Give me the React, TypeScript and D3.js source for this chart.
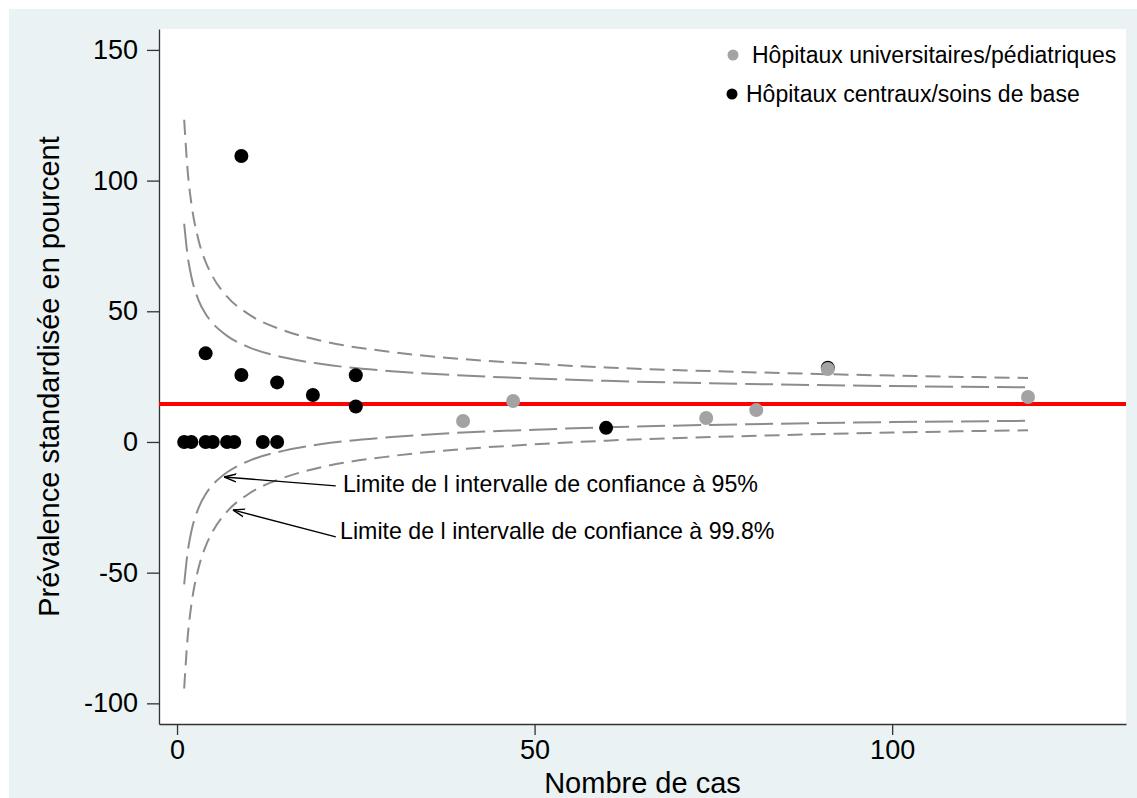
import React, { useEffect, useRef } from 'react';
import * as d3 from 'd3';

// hôpitaux universitaires / pédiatriques (gris)
const univCases = [40, 47, 74, 81, 91, 119];
const univPrev = [8.0, 15.7, 9.2, 12.2, 27.9, 17.2];

// hôpitaux centraux / soins de base (noir)
const centralCases = [1, 2, 4, 5, 7, 8, 12, 14, 4, 9, 9, 14, 19, 25, 25, 60, 91];
const centralPrev = [0, 0, 0, 0, 0, 0, 0, 0, 33.9, 109.4, 25.6, 22.8, 18.0, 25.5, 13.6, 5.4, 28.4];

// moyenne globale
const meanPrev = 14.5;

// limites de l'entonnoir
const limitCases = [1, 1.5, 2, 3, 4, 5, 7, 10, 15, 20, 30, 40, 50, 60, 80, 100, 119];
const upper95 = [83.5, 70.9, 63.3, 54.3, 49.0, 45.4, 40.6, 36.3, 32.3, 29.9, 27.1, 25.4, 24.3, 23.4, 22.2, 21.4, 20.9];
const lower95 = [-54.5, -41.9, -34.3, -25.3, -20.0, -16.4, -11.6, -7.3, -3.3, -0.9, 1.9, 3.6, 4.7, 5.6, 6.8, 7.6, 8.1];
const upper998 = [123.3, 103.3, 91.4, 77.3, 68.9, 63.2, 55.6, 48.9, 42.6, 38.8, 34.4, 31.7, 29.9, 28.5, 26.7, 25.4, 24.5];
const lower998 = [-94.3, -74.3, -62.4, -48.3, -39.9, -34.2, -26.6, -19.9, -13.6, -9.8, -5.4, -2.7, -0.9, 0.5, 2.3, 3.6, 4.5];

const xTicks = [0, 50, 100];
const yTicks = [-100, -50, 0, 50, 100, 150];

const legendLabels = ['Hôpitaux universitaires/pédiatriques', 'Hôpitaux centraux/soins de base'];
const noteLabels = ['Limite de l intervalle de confiance à 95%', 'Limite de l intervalle de confiance à 99.8%'];
// flèches: [x début, y début, x pointe, y pointe] en unités des données
const noteArrows = [
  [22.2, -16.8, 6.6, -13.4],
  [22.2, -36.3, 7.8, -26.0],
];
const noteText = [[23.2, -16.1], [22.8, -34.0]];

const FONT = '"Liberation Sans", Arial, sans-serif';

export default function App() {
  const ref = useRef<SVGSVGElement>(null);

  useEffect(() => {
    const width = 1137;
    const height = 798;
    const plot = { left: 159, right: 1126, top: 29, bottom: 724 };

    const svg = d3.select(ref.current);
    svg.selectAll('*').remove();

    // fond
    svg.append('rect').attr('x', 9).attr('y', 9).attr('width', width - 9).attr('height', height - 9).attr('fill', '#eaf2f3');
    svg.append('rect')
      .attr('x', plot.left).attr('y', plot.top)
      .attr('width', plot.right - plot.left).attr('height', plot.bottom - plot.top)
      .attr('fill', '#ffffff');

    const x = d3.scaleLinear().domain([-2.52, 132.7]).range([plot.left, plot.right]);
    const y = d3.scaleLinear().domain([-107.9, 158.0]).range([plot.bottom, plot.top]);

    // axes
    const fmt = (d: any) => String(d);
    const yAxis = svg.append('g')
      .attr('transform', `translate(${plot.left},0)`)
      .call(d3.axisLeft(y).tickValues(yTicks).tickFormat(fmt).tickSize(12).tickPadding(9).tickSizeOuter(0));
    const xAxis = svg.append('g')
      .attr('transform', `translate(0,${plot.bottom})`)
      .call(d3.axisBottom(x).tickValues(xTicks).tickFormat(fmt).tickSize(11).tickPadding(5).tickSizeOuter(0));
    [xAxis, yAxis].forEach(g => {
      g.select('.domain').attr('stroke', '#333').attr('stroke-width', 1.3);
      g.selectAll('.tick line').attr('stroke', '#333').attr('stroke-width', 1.3);
      g.selectAll('.tick text').attr('font-size', 27).attr('font-family', FONT).attr('fill', '#000');
    });

    // titres des axes
    svg.append('text')
      .attr('x', (plot.left + plot.right) / 2).attr('y', 793)
      .attr('text-anchor', 'middle')
      .attr('font-family', FONT).attr('font-size', 29)
      .text('Nombre de cas');
    svg.append('text')
      .attr('transform', `translate(59,${(plot.top + plot.bottom) / 2}) rotate(-90)`)
      .attr('text-anchor', 'middle')
      .attr('font-family', FONT).attr('font-size', 29)
      .text('Prévalence standardisée en pourcent');

    // limites de confiance
    const line = d3.line<number>()
      .x((d, i) => x(limitCases[i]))
      .y(d => y(d))
      .curve(d3.curveMonotoneX);
    const limits = [
      { values: upper95, dash: '28,8' },
      { values: lower95, dash: '28,8' },
      { values: upper998, dash: '15,8' },
      { values: lower998, dash: '15,8' },
    ];
    limits.forEach(l => {
      svg.append('path')
        .attr('d', line(l.values))
        .attr('fill', 'none')
        .attr('stroke', '#8c8c8c')
        .attr('stroke-width', 2)
        .attr('stroke-dasharray', l.dash);
    });

    // moyenne
    svg.append('line')
      .attr('x1', plot.left).attr('x2', plot.right)
      .attr('y1', y(meanPrev)).attr('y2', y(meanPrev))
      .attr('stroke', '#ff0000').attr('stroke-width', 4);

    // points
    svg.append('g').selectAll('circle')
      .data(centralCases)
      .enter()
      .append('circle')
      .attr('cx', d => x(d))
      .attr('cy', (d, i) => y(centralPrev[i]))
      .attr('r', 7)
      .attr('fill', '#000');
    svg.append('g').selectAll('circle')
      .data(univCases)
      .enter()
      .append('circle')
      .attr('cx', d => x(d))
      .attr('cy', (d, i) => y(univPrev[i]))
      .attr('r', 7)
      .attr('fill', '#a3a3a3');

    // annotations
    const defs = svg.append('defs');
    defs.append('marker')
      .attr('id', 'head')
      .attr('viewBox', '0 0 12 10')
      .attr('refX', 12).attr('refY', 5)
      .attr('markerWidth', 12).attr('markerHeight', 10)
      .attr('markerUnits', 'userSpaceOnUse')
      .attr('orient', 'auto')
      .append('path')
      .attr('d', 'M0,1 L12,5 L0,9')
      .attr('fill', 'none')
      .attr('stroke', '#000')
      .attr('stroke-width', 1.4);
    noteArrows.forEach(a => {
      svg.append('line')
        .attr('x1', x(a[0])).attr('y1', y(a[1]))
        .attr('x2', x(a[2])).attr('y2', y(a[3]))
        .attr('stroke', '#000').attr('stroke-width', 1.4)
        .attr('marker-end', 'url(#head)');
    });
    noteLabels.forEach((t, i) => {
      svg.append('text')
        .attr('x', x(noteText[i][0])).attr('y', y(noteText[i][1]))
        .attr('dy', '0.35em')
        .attr('font-family', FONT).attr('font-size', 23.2)
        .text(t);
    });

    // légende
    const legendColors = ['#a3a3a3', '#000'];
    const legendY = [55, 94];
    const legendDotX = [733, 732];
    const legendTextX = [752, 746];
    legendLabels.forEach((t, i) => {
      svg.append('circle').attr('cx', legendDotX[i]).attr('cy', legendY[i]).attr('r', 5.5).attr('fill', legendColors[i]);
      svg.append('text')
        .attr('x', legendTextX[i]).attr('y', legendY[i])
        .attr('dy', '0.35em')
        .attr('font-family', FONT).attr('font-size', 23)
        .text(t);
    });
  }, []);

  return (
    <svg ref={ref} width={1137} height={798} style={{ position: 'absolute', left: 0, top: 0, background: '#fff' }} />
  );
}
